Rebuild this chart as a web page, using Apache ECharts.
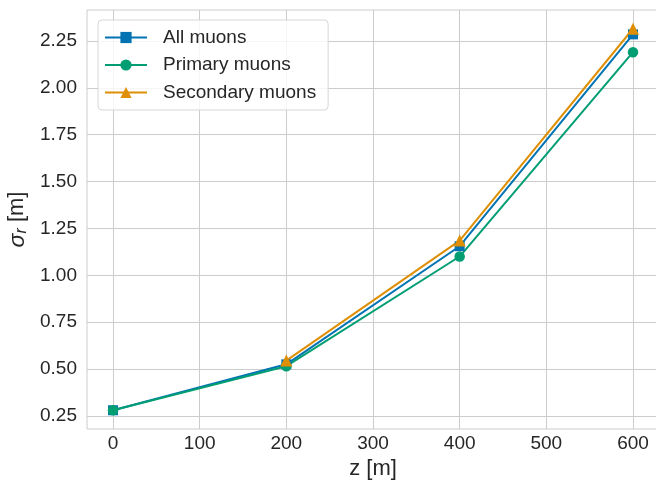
<!DOCTYPE html>
<html>
<head>
<meta charset="utf-8">
<title>Muon beam spread vs. distance</title>
<script src="https://cdn.jsdelivr.net/npm/echarts@6/dist/echarts.min.js"></script>
<style>
  html, body { margin: 0; padding: 0; background: #ffffff; }
  #chart { width: 656px; height: 485px; }
</style>
</head>
<body>
<div id="chart"></div>
<script>
// Distance along the beam line, z [m]
const zValues = [0, 200, 400, 600];

// Radial spread sigma_r [m] at each distance (no secondaries at z = 0)
const allMuons = [0.28, 0.525, 1.155, 2.285];
const primaryMuons = [0.28, 0.515, 1.10, 2.19];
const secondaryMuons = [null, 0.545, 1.185, 2.315];

// Tick positions
const xTicks = [0, 100, 200, 300, 400, 500, 600];
const yTicks = [0.25, 0.50, 0.75, 1.00, 1.25, 1.50, 1.75, 2.00, 2.25];

const seriesDefs = [
  { name: 'All muons', values: allMuons, color: '#0173b2', symbol: 'rect', size: 10 },
  { name: 'Primary muons', values: primaryMuons, color: '#029e73', symbol: 'circle', size: 10.5 },
  { name: 'Secondary muons', values: secondaryMuons, color: '#de8f05', symbol: 'triangle', size: 12 }
];

const textColor = '#262626';
const gridColor = '#cccccc';
const fontFamily = 'Arial, "Liberation Sans", Helvetica, sans-serif';

const chart = echarts.init(document.getElementById('chart'), null, { renderer: 'canvas' });

chart.setOption({
  animation: false,
  backgroundColor: '#ffffff',
  textStyle: { fontFamily: fontFamily, color: textColor },
  grid: {
    left: 87, top: 10, width: 572, height: 419,
    outerBoundsMode: 'none',
    containLabel: false,
    show: true, borderColor: gridColor, borderWidth: 1, backgroundColor: 'transparent'
  },
  legend: {
    left: 98, top: 20,
    orient: 'vertical',
    padding: [8, 12, 8, 6],
    itemWidth: 42, itemHeight: 14, itemGap: 8.5,
    backgroundColor: 'rgba(255,255,255,0.8)',
    borderColor: '#d6d6d6', borderWidth: 1, borderRadius: 4,
    textStyle: { fontSize: 19, color: textColor, fontFamily: fontFamily, padding: [0, 0, 0, 11] },
    data: seriesDefs.map(s => s.name)
  },
  xAxis: {
    type: 'value',
    min: -30, max: 630,
    name: 'z [m]',
    nameLocation: 'middle',
    nameGap: 28,
    nameTextStyle: { fontSize: 22, color: textColor, fontFamily: fontFamily },
    axisLine: { show: false },
    axisTick: { show: false, customValues: xTicks },
    axisLabel: { customValues: xTicks, fontSize: 19, color: textColor, margin: 5 },
    splitLine: { show: true, lineStyle: { color: gridColor, width: 1 } }
  },
  yAxis: {
    type: 'value',
    min: 0.18, max: 2.415,
    name: '{s|σ}{r|r} [m]',
    nameLocation: 'middle',
    nameRotate: 90,
    nameGap: 54,
    nameTextStyle: {
      fontSize: 22, color: textColor, fontFamily: fontFamily,
      rich: {
        s: { fontSize: 23, fontStyle: 'italic', color: textColor, fontFamily: fontFamily },
        r: { fontSize: 16, fontStyle: 'italic', color: textColor, fontFamily: fontFamily, verticalAlign: 'bottom', padding: [8, 0, 0, 0] }
      }
    },
    axisLine: { show: false },
    axisTick: { show: false, customValues: yTicks },
    axisLabel: {
      customValues: yTicks, fontSize: 19, color: textColor, margin: 10,
      formatter: v => v.toFixed(2)
    },
    splitLine: { show: true, lineStyle: { color: gridColor, width: 1 } }
  },
  series: seriesDefs.map(s => ({
    name: s.name,
    type: 'line',
    data: zValues.map((z, i) => [z, s.values[i]]),
    symbol: s.symbol,
    symbolSize: s.size,
    showSymbol: true,
    connectNulls: false,
    color: s.color,
    lineStyle: { width: 2, color: s.color },
    itemStyle: { color: s.color, borderWidth: 0 },
    emphasis: { disabled: true },
    z: 2
  }))
});
</script>
</body>
</html>
